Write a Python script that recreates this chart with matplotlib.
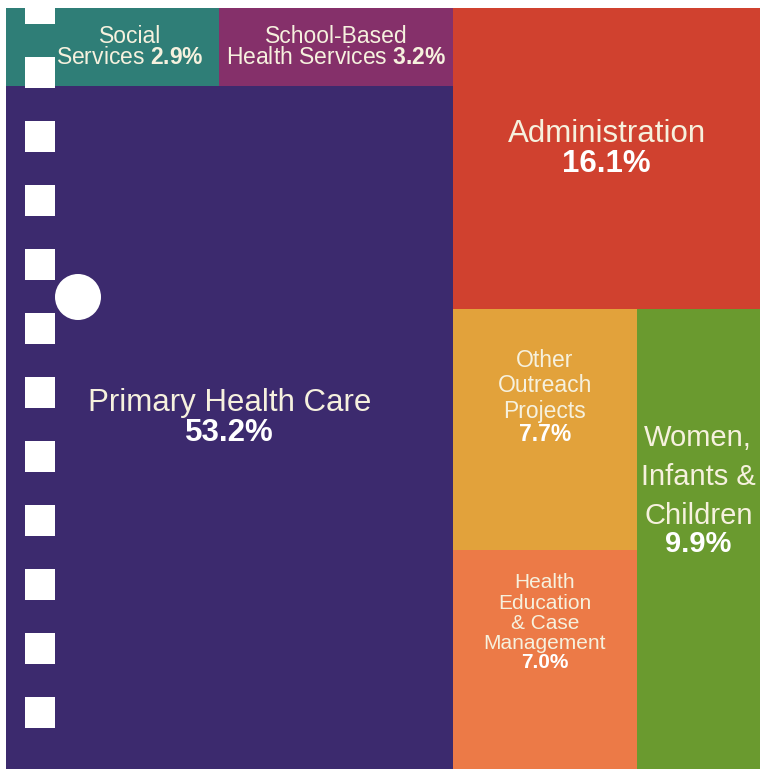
import matplotlib
matplotlib.use("Agg")
import matplotlib.pyplot as plt
from matplotlib.patches import Rectangle, Circle

plt.rcParams['font.family'] = ['Liberation Sans', 'DejaVu Sans']
plt.rcParams['mathtext.fontset'] = 'custom'
plt.rcParams['mathtext.rm'] = 'Liberation Sans'
plt.rcParams['mathtext.bf'] = 'Liberation Sans:bold'

# Données : part du budget (%)
categories = ["Primary Health Care", "Administration", "Women, Infants & Children",
              "Other Outreach Projects", "Health Education & Case Management",
              "School-Based Health Services", "Social Services"]
shares = [53.2, 16.1, 9.9, 7.7, 7.0, 3.2, 2.9]
labels = ["Primary Health Care", "Administration", "Women,\nInfants &\nChildren",
          "Other\nOutreach\nProjects", "Health\nEducation\n& Case\nManagement",
          "School-Based\nHealth Services", "Social\nServices"]

# Style
colors = ["#3c2a6e", "#d0412f", "#6a9a2f", "#e2a23b", "#ec7a47", "#85306a", "#2f7e77"]
font_sizes = [22.5, 22.5, 21, 16.5, 15, 16.5, 16.5]
line_spacing = [1.1, 1.1, 1.5, 1.13, 1.09, 0.9, 0.9]
inline_pct = [False, False, False, False, False, True, True]
text_dx = [0, 0, 0, 0, 0, 0, 18]   # décalage pour éviter les trous de reliure
txt_color = "#f6f1de"

# Structure du treemap: 'h' = côte à côte, 'v' = empilés
tree = ('h', [('v', [('h', [6, 5]), 0]),
              ('v', [1, ('h', [('v', [3, 4]), 2])])])


def total(node):
    if isinstance(node, int):
        return shares[node]
    return sum(total(c) for c in node[1])


def layout(node, x, y, w, h, out):
    if isinstance(node, int):
        out[node] = (x, y, w, h)
        return
    direction, children = node
    s = total(node)
    pos = 0.0
    for c in children:
        f = total(c) / s
        if direction == 'h':
            layout(c, x + pos * w, y, w * f, h, out)
        else:
            layout(c, x, y + pos * h, w, h * f, out)
        pos += f


W, H = 760, 769
fig = plt.figure(figsize=(W / 100, H / 100), dpi=100)
ax = fig.add_axes([0, 0, 1, 1])
ax.set_xlim(0, W)
ax.set_ylim(H, 0)
ax.axis('off')

rects = {}
layout(tree, 6, 8, W - 6, H - 8, rects)

for i, (x, y, w, h) in rects.items():
    ax.add_patch(Rectangle((x, y), w, h, facecolor=colors[i], edgecolor='none'))
    cx, cy = x + w / 2 + text_dx[i], y + h / 2
    pct = f"{shares[i]:.1f}%"
    fs = font_sizes[i]
    if inline_pct[i]:
        first, last = labels[i].split("\n")
        ax.text(cx, cy, first + "\n" + last + " $\\mathbf{" + pct.replace("%", "\\%") + "}$",
                ha='center', va='center', fontsize=fs, color=txt_color,
                linespacing=line_spacing[i])
    else:
        ax.annotate(labels[i], (cx, cy), xytext=(0, 0.3 * fs), textcoords='offset points',
                    ha='center', va='bottom', fontsize=fs, color=txt_color,
                    linespacing=line_spacing[i])
        ax.annotate(pct, (cx, cy), xytext=(0, 0.3 * fs), textcoords='offset points',
                    ha='center', va='top', fontsize=fs, color='white', fontweight='bold')

# Trous de reliure
for k in range(-1, 11):
    ax.add_patch(Rectangle((25, 57 + 64 * k), 30, 31, facecolor='white', edgecolor='none'))
ax.add_patch(Circle((78, 297), 23, facecolor='white', edgecolor='none'))

fig.savefig("out.png", dpi=100)
